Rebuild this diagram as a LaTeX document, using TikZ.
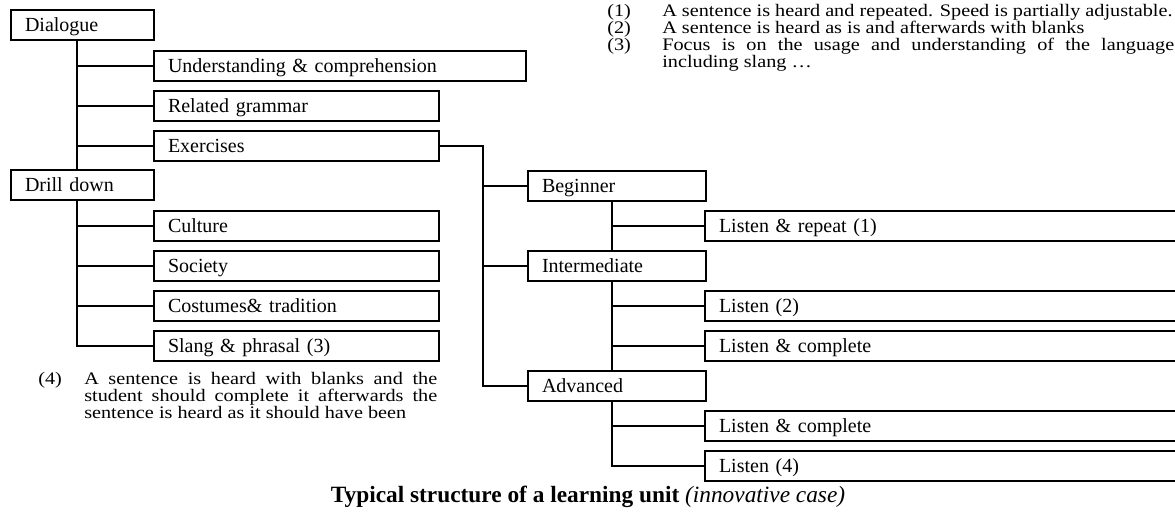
\documentclass[tikz,border=0pt]{standalone}
\usepackage{fontspec}
\setmainfont{Liberation Serif}
\newfontfamily\notefont{Liberation Serif}[FakeStretch=1.15]
\usetikzlibrary{calc}
\begin{document}
\begin{tikzpicture}[x=0.75pt,y=-0.75pt,
  box/.style={draw, line width=1.5pt, rectangle, anchor=north west,
    inner xsep=10.5pt, inner ysep=0pt, minimum height=22.5pt,
    text height=12.5pt, text depth=2.75pt, align=left, text width=#1,
    font=\fontsize{15pt}{17pt}\selectfont},
  conn/.style={line width=1.1pt},
  note/.style={anchor=base west, inner sep=0pt, align=justify,
    font={\notefont\fontsize{13.2pt}{12.75pt}\selectfont\lineskiplimit=-100pt}}]
\fill[white] (0,0) rectangle (1175,516);
\useasboundingbox (0,0) rectangle (1175,516);
\clip (0,0) rectangle (1175,516);

% left tree
\node[box=86.25pt] (dia) at (10,9) {Dialogue};
\node[box=258pt] (und) at (153,50) {Understanding \& comprehension};
\node[box=192.75pt] (gram) at (153,90) {Related grammar};
\node[box=192.75pt] (exe) at (153,130) {Exercises};
\node[box=86.25pt] (drill) at (10,169) {Drill down};
\node[box=192.75pt] (cul) at (153,210) {Culture};
\node[box=192.75pt] (soc) at (153,250) {Society};
\node[box=192.75pt] (cos) at (153,290) {Costumes\& tradition};
\node[box=192.75pt] (sla) at (153,330) {Slang \& phrasal (3)};

% right tree
\node[box=112.5pt] (beg) at (527,170) {Beginner};
\node[box=112.5pt] (int) at (527,250) {Intermediate};
\node[box=112.5pt] (adv) at (527,370) {Advanced};
\node[box=336pt] (lr) at (704,210) {Listen \& repeat (1)};
\node[box=336pt] (l2) at (704,290) {Listen (2)};
\node[box=336pt] (lc1) at (704,330) {Listen \& complete};
\node[box=336pt] (lc2) at (704,410) {Listen \& complete};
\node[box=336pt] (l4) at (704,450) {Listen (4)};

% connectors
\coordinate (dv) at ([xshift=50.25pt]dia.south west);
\draw[conn] (dv) -- ([xshift=50.25pt]drill.north west);
\draw[conn] (dv) |- (und.west);
\draw[conn] (dv) |- (gram.west);
\draw[conn] (dv) |- (exe.west);

\coordinate (dd) at ([xshift=50.25pt]drill.south west);
\draw[conn] (dd) |- (cul.west);
\draw[conn] (dd) |- (soc.west);
\draw[conn] (dd) |- (cos.west);
\draw[conn] (dd) |- (sla.west);

\coordinate (ej) at ([xshift=32.25pt]exe.east);
\draw[conn] (exe.east) -- (ej) |- (adv.west);
\draw[conn] (ej) |- (beg.west);
\draw[conn] (ej) |- (int.west);

\coordinate (bv) at ([xshift=63.75pt]beg.south west);
\draw[conn] (bv) -- ([xshift=63.75pt]int.north west);
\draw[conn] (bv) |- (lr.west);

\coordinate (iv) at ([xshift=63.75pt]int.south west);
\draw[conn] (iv) -- ([xshift=63.75pt]adv.north west);
\draw[conn] (iv) |- (l2.west);
\draw[conn] (iv) |- (lc1.west);

\coordinate (av) at ([xshift=63.75pt]adv.south west);
\draw[conn] (av) |- (lc2.west);
\draw[conn] (av) |- (l4.west);

% notes
\node[note, text width=425.25pt] (n1) at (607,17) {%
\hangindent=41.25pt\hangafter=1\noindent\makebox[41.25pt][l]{(1)}A sentence is heard and repeated. Speed is partially adjustable.\par
\hangindent=41.25pt\hangafter=1\noindent\makebox[41.25pt][l]{(2)}A sentence is heard as is and afterwards with blanks\par
\hangindent=41.25pt\hangafter=1\noindent\makebox[41.25pt][l]{(3)}Focus is on the usage and understanding of the language\linebreak including slang …\par};

\node[note, text width=299.25pt] (n4) at (38,385) {%
\hangindent=34.5pt\hangafter=1\noindent\makebox[34.5pt][l]{(4)}A sentence is heard with blanks and the\linebreak student should complete it afterwards the\linebreak sentence is heard as it should have been\par};

\node[anchor=base, inner sep=0pt, font=\fontsize{17.5pt}{20pt}\selectfont] (cap) at (588,503)
  {\textbf{Typical structure of a learning unit} \textit{(innovative case)}};
\end{tikzpicture}
\end{document}
